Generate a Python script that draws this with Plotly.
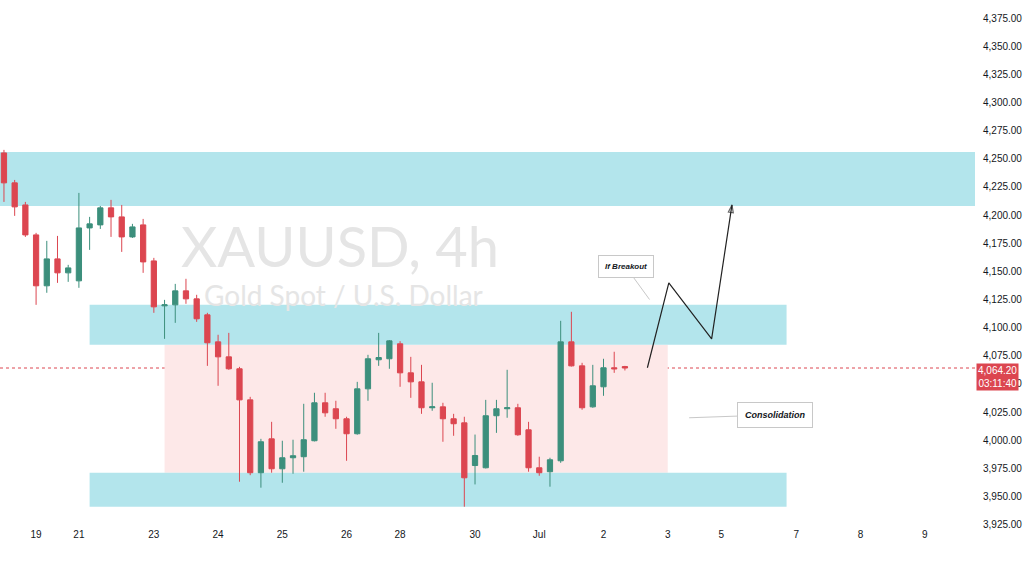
"""
XAUUSD 4h chart with supply/demand zones and a breakout projection.
"""

import plotly.graph_objects as go

# 4h candles, index 0 = first visible bar
opens = [
    4255.2, 4228.6, 4209.0, 4182.4, 4137.2, 4161.1, 4148.7, 4141.6, 4188.6, 4191.3,
    4206.4, 4198.4, 4180.6, 4191.3, 4159.3, 4119.4, 4120.3, 4132.7, 4125.6, 4111.4,
    4087.4, 4074.1, 4063.5, 4035.9, 3971.2, 4001.3, 3974.7, 3984.5, 3985.4, 3999.6,
    4033.3, 4028.0, 4019.1, 4005.8, 4045.7, 4071.5, 4072.4, 4085.7, 4059.9, 4051.9,
    4028.9, 4029.7, 4019.1, 4015.5, 3977.6, 3975.6, 4021.8, 4028.0, 4028.9, 4009.3,
    3975.6, 3972.1, 3981.8, 4087.4, 4066.1, 4029.7, 4047.5, 4064.4, 4065.5,
]
highs = [
    4257.9, 4231.2, 4211.7, 4184.2, 4177.1, 4181.5, 4155.8, 4219.7, 4198.4, 4208.1,
    4213.5, 4209.0, 4192.2, 4196.6, 4162.0, 4124.7, 4138.9, 4143.4, 4129.2, 4113.2,
    4093.7, 4095.4, 4065.2, 4038.6, 4001.3, 4016.4, 3999.6, 4000.5, 4032.4, 4042.2,
    4042.2, 4035.1, 4020.9, 4051.9, 4075.9, 4095.4, 4089.0, 4088.0, 4074.1, 4067.0,
    4051.1, 4033.3, 4023.5, 4020.9, 4005.1, 4035.9, 4035.9, 4062.6, 4032.4, 4016.4,
    3985.4, 3984.5, 4106.1, 4114.1, 4068.8, 4067.0, 4072.4, 4078.6, 4066.1,
]
lows = [
    4211.7, 4199.3, 4180.6, 4120.3, 4131.0, 4139.8, 4140.7, 4135.4, 4169.1, 4187.7,
    4180.6, 4167.3, 4179.7, 4148.7, 4113.2, 4090.1, 4104.3, 4121.2, 4105.2, 4066.1,
    4048.4, 4062.6, 3963.2, 3969.0, 3957.9, 3971.2, 3962.3, 3970.3, 3972.1, 3999.0,
    4020.9, 4010.2, 3981.8, 4005.0, 4035.1, 4066.1, 4063.5, 4047.5, 4037.7, 4023.5,
    4026.2, 3998.7, 4004.0, 3941.0, 3960.8, 3975.0, 4006.6, 4020.0, 4004.0, 3972.1,
    3968.5, 3958.8, 3980.0, 4065.5, 4027.1, 4028.9, 4039.5, 4059.9, 4062.0,
]
closes = [
    4228.6, 4207.3, 4182.4, 4137.2, 4161.1, 4148.7, 4153.1, 4188.6, 4192.2, 4206.4,
    4198.4, 4180.6, 4189.5, 4158.4, 4118.5, 4120.3, 4132.7, 4125.6, 4107.9, 4086.6,
    4074.1, 4063.5, 4035.9, 3971.2, 3998.7, 3974.7, 3984.5, 3986.3, 4000.5, 4033.3,
    4024.4, 4019.1, 4005.8, 4045.7, 4072.4, 4073.5, 4088.3, 4059.9, 4051.9, 4028.9,
    4029.7, 4019.1, 4014.7, 3966.7, 3986.5, 4021.8, 4028.0, 4028.9, 4004.9, 3975.6,
    3971.2, 3982.7, 4087.4, 4066.1, 4028.9, 4048.4, 4064.4, 4063.5, 4064.2,
]

# time axis labels (bar index where each day starts)
tick_bars = [3, 7, 14, 20, 26, 32, 37, 44, 50, 56, 62, 67, 74, 80, 86]
tick_labels = ["19", "21", "23", "24", "25", "26", "28", "30", "Jul", "2", "3", "5", "7", "8", "9"]

price_ticks = [3925 + 25 * k for k in range(19)]

# zones: (bar from, bar to, price low, price high)
resistance_top = (-5, 120, 4208.1, 4256.0)
resistance_mid = (8.0, 73.1, 4084.8, 4120.3)
consolidation = (15.0, 62.0, 3971.2, 4084.8)
support = (8.0, 73.1, 3941.0, 3971.2)

# projected path if breakout
path_bars = [60.1, 62.1, 66.1, 68.0]
path_prices = [4064.4, 4139.8, 4090.1, 4209.0]

last_price = 4064.2
countdown = "03:11:40"

GREEN = "#3c8f7c"
RED = "#dc4650"
BLUE_ZONE = "#b3e5ec"
PINK_ZONE = "#fde8e8"

fig = go.Figure()

fig.add_trace(
    go.Candlestick(
        x=list(range(len(opens))),
        open=opens,
        high=highs,
        low=lows,
        close=closes,
        increasing=dict(line=dict(color=GREEN, width=1), fillcolor=GREEN),
        decreasing=dict(line=dict(color=RED, width=1), fillcolor=RED),
        whiskerwidth=0,
        showlegend=False,
        hoverinfo="skip",
    )
)

fig.add_trace(
    go.Scatter(
        x=path_bars,
        y=path_prices,
        mode="lines+markers",
        line=dict(color="#222222", width=1.2),
        marker=dict(
            symbol=["circle", "circle", "circle", "arrow-open"],
            size=[0, 0, 0, 8],
            angleref="previous",
            color="#222222",
            line=dict(color="#222222", width=1.2),
        ),
        showlegend=False,
        hoverinfo="skip",
    )
)

shapes = []
for zone, colour in [
    (resistance_top, BLUE_ZONE),
    (consolidation, PINK_ZONE),
    (resistance_mid, BLUE_ZONE),
    (support, BLUE_ZONE),
]:
    shapes.append(
        dict(
            type="rect",
            xref="x",
            yref="y",
            x0=zone[0],
            x1=zone[1],
            y0=zone[2],
            y1=zone[3],
            fillcolor=colour,
            line=dict(width=0),
            layer="below",
        )
    )
# last price dotted line
shapes.append(
    dict(
        type="line",
        xref="paper",
        yref="y",
        x0=0,
        x1=1,
        y0=last_price,
        y1=last_price,
        line=dict(color=RED, width=1, dash="dot"),
        layer="below",
    )
)

annotations = [
    # watermark
    dict(
        text="XAUUSD, 4h",
        xref="paper",
        yref="paper",
        x=0.349,
        y=0.535,
        showarrow=False,
        font=dict(family="Lato", size=56, color="#e5e5e5"),
    ),
    dict(
        text="Gold Spot / U.S. Dollar",
        xref="paper",
        yref="paper",
        x=0.352,
        y=0.44,
        showarrow=False,
        font=dict(family="Lato", size=28, color="#e5e5e5"),
    ),
    # callouts
    dict(
        text="<b><i>If Breakout</i></b>",
        x=60.3,
        y=4125.0,
        ax=-24,
        ay=-33,
        showarrow=True,
        arrowhead=0,
        arrowwidth=1,
        arrowcolor="#c8c8c8",
        bgcolor="white",
        bordercolor="#c8c8c8",
        borderwidth=1,
        borderpad=6,
        font=dict(family="Liberation Sans", size=8, color="#131722"),
    ),
    dict(
        text="<b><i>Consolidation</i></b>",
        x=64.0,
        y=4020.0,
        ax=86,
        ay=-3,
        showarrow=True,
        arrowhead=0,
        arrowwidth=1,
        arrowcolor="#c8c8c8",
        bgcolor="white",
        bordercolor="#c8c8c8",
        borderwidth=1,
        borderpad=7,
        font=dict(family="Liberation Sans", size=9, color="#131722"),
    ),
    # last price tag on the scale
    dict(
        text=f"{last_price:,.2f}<br>{countdown}",
        xref="paper",
        yref="y",
        x=1,
        y=last_price,
        xanchor="left",
        yanchor="top",
        xshift=1,
        yshift=5,
        showarrow=False,
        bgcolor=RED,
        borderpad=1,
        align="center",
        font=dict(family="Liberation Sans", size=10, color="white"),
    ),
]

fig.update_layout(
    width=1026,
    height=577,
    margin=dict(l=0, r=51, t=0, b=50),
    paper_bgcolor="white",
    plot_bgcolor="white",
    shapes=shapes,
    annotations=annotations,
    xaxis=dict(
        range=[-0.37, 90.7],
        tickvals=tick_bars,
        ticktext=tick_labels,
        showgrid=False,
        zeroline=False,
        showline=False,
        ticks="",
        rangeslider=dict(visible=False),
        tickfont=dict(family="Liberation Sans", size=10, color="#131722"),
    ),
    yaxis=dict(
        side="right",
        range=[3923.0, 4391.0],
        tickvals=price_ticks,
        tickformat=",.2f",
        showgrid=False,
        zeroline=False,
        showline=False,
        ticks="",
        ticklabelstandoff=7,
        tickfont=dict(family="Liberation Sans", size=10, color="#131722"),
    ),
    hovermode=False,
)

# page body has a default margin; drop it so the chart sits at the window corner
fig.write_html(
    "out.html",
    config={"displayModeBar": False},
    post_script="document.body.style.margin = '0';",
)
